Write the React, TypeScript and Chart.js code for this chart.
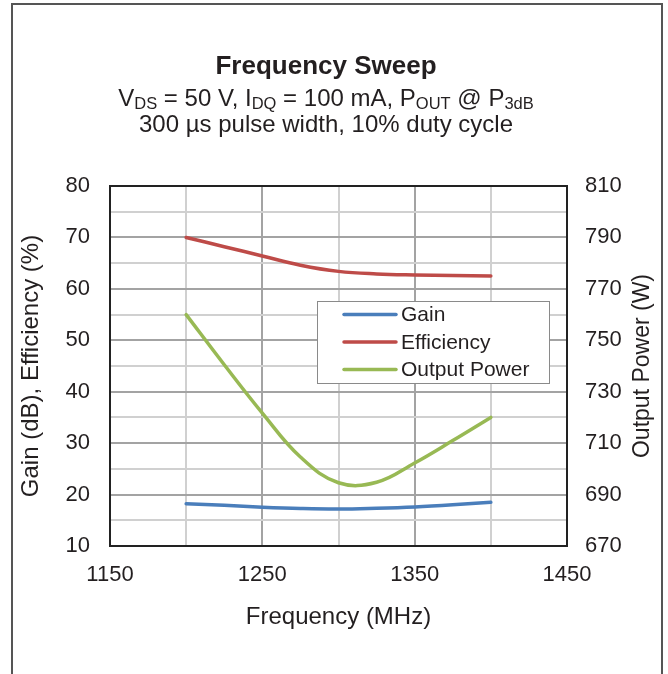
import React, { useEffect, useRef } from 'react';
import { Chart, registerables } from 'chart.js';

Chart.register(...registerables);

// ---- data ----
const frequencies = [1200, 1225, 1250, 1275, 1300, 1325, 1350, 1375, 1400];
const gainDb = [18.2, 17.9, 17.55, 17.3, 17.2, 17.35, 17.6, 18.0, 18.5];
const efficiencyPct = [70, 68.2, 66.4, 64.6, 63.4, 62.9, 62.7, 62.6, 62.5];
const outputPowerW = [760, 740.5, 721.7, 704.6, 694.6, 694.8, 702.3, 711, 720];
const xTickLabels = [1150, 1250, 1350, 1450];
const leftTickLabels = [10, 20, 30, 40, 50, 60, 70, 80];
const rightTickLabels = [670, 690, 710, 730, 750, 770, 790, 810];
const seriesNames = ['Gain', 'Efficiency', 'Output Power'];
const seriesColors = ['#4a7ebb', '#be4b48', '#98b954'];

const FONT = '"Liberation Sans", Arial, Helvetica, sans-serif';
const TEXT = '#231f20';

const pairs = (ys: number[]) => frequencies.map((x, i) => ({ x, y: ys[i] }));

const decorPlugin = {
  id: 'decor',
  beforeDraw(chart: any) {
    const ctx = chart.ctx;
    ctx.save();
    ctx.fillStyle = '#ffffff';
    ctx.fillRect(0, 0, chart.width, chart.height);
    ctx.strokeStyle = '#555555';
    ctx.lineWidth = 2;
    ctx.strokeRect(12, 4, 650, 700);

    // title
    ctx.fillStyle = TEXT;
    ctx.textAlign = 'center';
    ctx.textBaseline = 'middle';
    ctx.font = `bold 26px ${FONT}`;
    ctx.fillText('Frequency Sweep', 326, 67);

    // subtitle line 1 with subscripts
    const main = 24;
    const sub = 16.5;
    const parts = [
      { t: 'V' }, { t: 'DS', s: true }, { t: ' = 50 V, I' }, { t: 'DQ', s: true },
      { t: ' = 100 mA, P' }, { t: 'OUT', s: true }, { t: ' @ P' }, { t: '3dB', s: true },
    ];
    let total = 0;
    const widths = parts.map((p) => {
      ctx.font = `${p.s ? sub : main}px ${FONT}`;
      const w = ctx.measureText(p.t).width;
      total += w;
      return w;
    });
    let x = 326 - total / 2;
    const base = 97 + main * 0.36;
    ctx.textAlign = 'left';
    ctx.textBaseline = 'alphabetic';
    parts.forEach((p, i) => {
      ctx.font = `${p.s ? sub : main}px ${FONT}`;
      ctx.fillText(p.t, x, p.s ? base + 3 : base);
      x += widths[i];
    });

    ctx.textAlign = 'center';
    ctx.textBaseline = 'middle';
    ctx.font = `${main}px ${FONT}`;
    ctx.fillText('300 \u00b5s pulse width, 10% duty cycle', 326, 125);

    // right axis title (reads bottom to top)
    const area = chart.chartArea;
    ctx.save();
    ctx.translate(643, (area.top + area.bottom) / 2);
    ctx.rotate(-Math.PI / 2);
    ctx.font = `23px ${FONT}`;
    ctx.fillText('Output Power (W)', 0, 0);
    ctx.restore();
    ctx.restore();
  },
  afterDatasetsDraw(chart: any) {
    const ctx = chart.ctx;
    const area = chart.chartArea;
    ctx.save();
    // plot frame
    ctx.strokeStyle = '#222222';
    ctx.lineWidth = 2;
    ctx.strokeRect(area.left, area.top, area.right - area.left, area.bottom - area.top);

    // legend
    const bx = 317, by = 301, bw = 232, bh = 82;
    ctx.fillStyle = '#ffffff';
    ctx.fillRect(bx, by, bw, bh);
    ctx.strokeStyle = '#8a8a8a';
    ctx.lineWidth = 1;
    ctx.strokeRect(bx + 0.5, by + 0.5, bw, bh);
    ctx.font = `21px ${FONT}`;
    ctx.textAlign = 'left';
    ctx.textBaseline = 'middle';
    seriesNames.forEach((name, i) => {
      const y = 314.5 + i * 27.5;
      ctx.strokeStyle = seriesColors[i];
      ctx.lineWidth = 3.5;
      ctx.lineCap = 'round';
      ctx.beginPath();
      ctx.moveTo(344, y);
      ctx.lineTo(396, y);
      ctx.stroke();
      ctx.fillStyle = TEXT;
      ctx.fillText(name, 401, y + 1);
    });
    ctx.restore();
  },
};

export default function App() {
  const ref = useRef<HTMLCanvasElement | null>(null);
  useEffect(() => {
    if (!ref.current) return;
    const chart = new Chart(ref.current, {
      type: 'line',
      data: {
        datasets: [
          { label: seriesNames[0], data: pairs(gainDb), yAxisID: 'y', borderColor: seriesColors[0] },
          { label: seriesNames[1], data: pairs(efficiencyPct), yAxisID: 'y', borderColor: seriesColors[1] },
          { label: seriesNames[2], data: pairs(outputPowerW), yAxisID: 'y2', borderColor: seriesColors[2] },
        ].map((d) => ({ ...d, borderWidth: 3.5, pointRadius: 0, tension: 0.4, fill: false, borderCapStyle: 'round' as const })),
      },
      options: {
        animation: false,
        responsive: false,
        devicePixelRatio: 1,
        layout: { padding: { top: 186, left: 11, right: 0, bottom: 0 } },
        plugins: { legend: { display: false }, tooltip: { enabled: false }, title: { display: false } },
        scales: {
          x: {
            type: 'linear',
            min: 1150,
            max: 1450,
            afterBuildTicks: (s: any) => {
              const t = [];
              for (let v = 1150; v <= 1450; v += 50) t.push({ value: v });
              s.ticks = t;
            },
            afterFit: (s: any) => { s.height = 128; },
            ticks: {
              autoSkip: false,
              maxRotation: 0,
              padding: 16,
              color: TEXT,
              font: { family: FONT, size: 22 },
              callback: (v: any) => (xTickLabels.includes(v) ? String(v) : ''),
            },
            grid: {
              drawTicks: false,
              lineWidth: 2,
              color: (c: any) => (xTickLabels.includes(c.tick?.value) ? '#a3a3a3' : '#d0d0d0'),
            },
            border: { display: false },
            title: { display: true, text: 'Frequency (MHz)', color: TEXT, font: { family: FONT, size: 24 }, padding: { top: 0, bottom: 42 } },
          },
          y: {
            position: 'left',
            min: 10,
            max: 80,
            afterBuildTicks: (s: any) => {
              const t = [];
              for (let v = 10; v <= 80; v += 5) t.push({ value: v });
              s.ticks = t;
            },
            afterFit: (s: any) => { s.width = 99; },
            ticks: {
              autoSkip: false,
              padding: 20,
              color: TEXT,
              font: { family: FONT, size: 22 },
              callback: (v: any) => (leftTickLabels.includes(v) ? String(v) : ''),
            },
            grid: {
              drawTicks: false,
              lineWidth: 2,
              color: (c: any) => (leftTickLabels.includes(c.tick?.value) ? '#a3a3a3' : '#d0d0d0'),
            },
            border: { display: false },
            title: { display: true, text: 'Gain (dB), Efficiency (%)', color: TEXT, font: { family: FONT, size: 24 }, padding: { top: 6, bottom: 0 } },
          },
          y2: {
            position: 'right',
            min: 670,
            max: 810,
            afterBuildTicks: (s: any) => {
              s.ticks = rightTickLabels.map((v) => ({ value: v }));
            },
            afterFit: (s: any) => { s.width = 101; },
            ticks: { autoSkip: false, padding: 18, color: TEXT, font: { family: FONT, size: 22 } },
            grid: { display: false, drawTicks: false },
            border: { display: false },
          },
        },
      },
      plugins: [decorPlugin],
    });
    return () => chart.destroy();
  }, []);
  return (
    <div style={{ position: 'absolute', left: 0, top: 0, width: 668, height: 674 }}>
      <canvas ref={ref} width={668} height={674} style={{ display: 'block' }} />
    </div>
  );
}
